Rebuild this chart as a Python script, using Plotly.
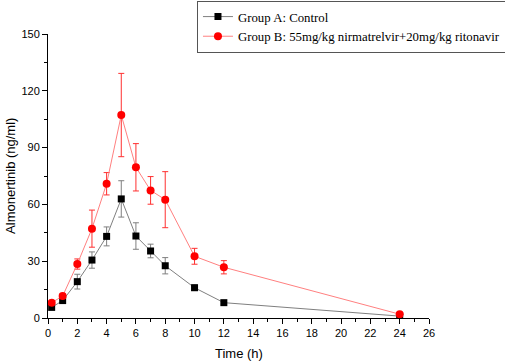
import plotly.graph_objects as go

time_h = [0.25, 1, 2, 3, 4, 5, 6, 7, 8, 10, 12, 24]
group_a = [5.6, 9.2, 19.2, 30.6, 43.1, 62.9, 43.3, 35.4, 27.6, 16.0, 8.1, 1.0]
group_a_err = [1.0, 1.0, 3.9, 4.3, 5.0, 9.6, 7.0, 3.6, 4.3, 1.5, 0.8, 0.3]
group_b = [8.1, 11.6, 28.5, 47.2, 70.9, 107.2, 79.6, 67.4, 62.5, 32.6, 26.8, 2.0]
group_b_err = [1.0, 1.2, 2.7, 9.8, 5.9, 22.0, 12.5, 7.3, 14.8, 4.2, 3.5, 0.5]

x_ticks = list(range(0, 27, 2))
y_ticks = [0, 30, 60, 90, 120, 150]

fig = go.Figure()
fig.add_trace(go.Scatter(
    x=time_h, y=group_a, name="Group A: Control", mode="lines+markers",
    line=dict(color="#7f7f7f", width=1),
    marker=dict(symbol="square", size=7, color="black"),
    error_y=dict(type="data", array=group_a_err, visible=True, color="#7f7f7f", thickness=1, width=3),
))
fig.add_trace(go.Scatter(
    x=time_h, y=group_b, name="Group B: 55mg/kg nirmatrelvir+20mg/kg ritonavir", mode="lines+markers",
    line=dict(color="#ff8080", width=1),
    marker=dict(symbol="circle", size=8, color="red"),
    error_y=dict(type="data", array=group_b_err, visible=True, color="#ff3030", thickness=1, width=3),
))

axis_common = dict(
    showline=True, linecolor="black", linewidth=1, ticks="outside", ticklen=5, tickcolor="black",
    showgrid=False, zeroline=False, mirror=False, automargin=False,
    tickfont=dict(family="Liberation Sans, Arial", size=11, color="black"),
)
fig.update_xaxes(
    range=[0, 26], tickvals=x_ticks, ticktext=[str(v) for v in x_ticks],
    minor=dict(dtick=1, ticks="outside", ticklen=3, tickcolor="black", showgrid=False),
    **axis_common,
)
fig.update_yaxes(
    range=[0, 150], tickvals=y_ticks, ticktext=[str(v) for v in y_ticks],
    minor=dict(dtick=15, ticks="outside", ticklen=3, tickcolor="black", showgrid=False),
    **axis_common,
)
title_font = dict(family="Liberation Sans, Arial", size=13, color="black")
fig.add_annotation(text="Time (h)", xref="paper", yref="paper", x=0.5, y=-0.09,
                   xanchor="center", yanchor="top", showarrow=False, font=title_font)
fig.add_annotation(text="Almonertinib (ng/ml)", xref="paper", yref="paper", x=-0.1,
                   y=0.5, xanchor="center", yanchor="middle", showarrow=False,
                   textangle=-90, font=title_font)
fig.update_layout(
    width=505, height=362,
    margin=dict(l=48, r=76, t=34, b=44, autoexpand=False),
    plot_bgcolor="white", paper_bgcolor="white",
    showlegend=True,
    legend=dict(
        x=0.391, y=1.117, xanchor="left", yanchor="top",
        bordercolor="#555555", borderwidth=1, bgcolor="white",
        font=dict(family="Liberation Serif, Times New Roman", size=12.8, color="black"),
        tracegroupgap=0, itemwidth=30,
    ),
)
fig.write_html(
    "out.html",
    config={"displayModeBar": False},
    post_script="document.body.style.margin='0';document.body.style.padding='0';",
)
